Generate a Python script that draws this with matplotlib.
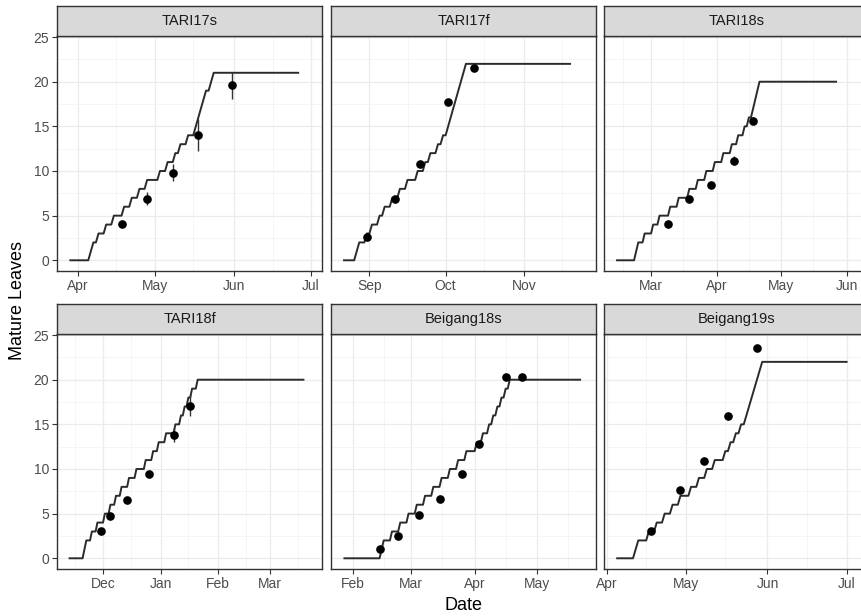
import numpy as np
import pandas as pd
import matplotlib
matplotlib.use("Agg")
import matplotlib.pyplot as plt
import matplotlib.dates as mdates

plt.rcParams['font.family'] = ['Liberation Sans', 'DejaVu Sans']

sites = ["TARI17s", "TARI17f", "TARI18s", "TARI18f", "Beigang18s", "Beigang19s"]

# simulated leaf appearance: first/last simulated day and the day (offset from
# the first day) on which each new mature leaf shows up
sim_start = ["2017-03-29", "2017-08-22", "2018-02-13", "2018-11-13", "2018-01-28", "2019-04-05"]
sim_end = ["2017-06-26", "2017-11-19", "2018-05-27", "2019-03-19", "2018-05-22", "2019-07-01"]

leaf_days_tari17s = [8, 9, 11, 14, 17, 21, 24, 27, 30, 35, 38, 41, 43, 46, 49, 50, 51, 52, 53, 55, 56]
leaf_days_tari17f = [5, 6, 9, 11, 14, 16, 19, 22, 25, 29, 32, 34, 37, 39, 41, 42, 43, 44, 45, 46, 47, 48]
leaf_days_tari18s = [9, 10, 13, 17, 20, 25, 29, 34, 38, 42, 46, 50, 54, 57, 60, 62, 64, 65, 66, 67]
leaf_days_tari18f = [8, 9, 12, 15, 19, 22, 25, 28, 32, 36, 41, 45, 48, 52, 57, 60, 62, 64, 66, 69]
leaf_days_beigang18s = [18, 19, 23, 27, 31, 35, 39, 43, 47, 51, 55, 59, 64, 67, 70, 72, 74, 76, 78, 80]
leaf_days_beigang19s = [7, 8, 12, 15, 18, 21, 24, 28, 31, 34, 37, 41, 43, 45, 47, 49, 50, 51, 52, 53, 54, 55]

# observed mature leaves (mean and sd)
obs_date_tari17s = ["2017-04-18", "2017-04-28", "2017-05-08", "2017-05-18", "2017-05-31"]
obs_mean_tari17s = [4.05, 6.9, 9.8, 14.0, 19.6]
obs_sd_tari17s = [0.2, 0.75, 0.95, 1.8, 1.5]

obs_date_tari17f = ["2017-08-31", "2017-09-11", "2017-09-21", "2017-10-02", "2017-10-12"]
obs_mean_tari17f = [2.6, 6.9, 10.8, 17.7, 21.5]
obs_sd_tari17f = [0.3, 0.3, 0.3, 0.3, 0.3]

obs_date_tari18s = ["2018-03-09", "2018-03-19", "2018-03-29", "2018-04-09", "2018-04-18"]
obs_mean_tari18s = [4.1, 6.85, 8.4, 11.15, 15.65]
obs_sd_tari18s = [0.2, 0.3, 0.3, 0.5, 0.4]

obs_date_tari18f = ["2018-11-30", "2018-12-05", "2018-12-14", "2018-12-26", "2019-01-08", "2019-01-17"]
obs_mean_tari18f = [3.0, 4.7, 6.55, 9.45, 13.8, 17.1]
obs_sd_tari18f = [0.2, 0.3, 0.3, 0.3, 0.8, 1.15]

obs_date_beigang18s = ["2018-02-14", "2018-02-23", "2018-03-05", "2018-03-15",
                       "2018-03-26", "2018-04-03", "2018-04-16", "2018-04-24"]
obs_mean_beigang18s = [1.05, 2.55, 4.9, 6.65, 9.45, 12.8, 20.35, 20.35]
obs_sd_beigang18s = [0.2, 0.2, 0.2, 0.2, 0.2, 0.2, 0.2, 0.2]

obs_date_beigang19s = ["2019-04-18", "2019-04-29", "2019-05-08", "2019-05-17", "2019-05-28"]
obs_mean_beigang19s = [3.0, 7.65, 10.85, 15.9, 23.5]
obs_sd_beigang19s = [0.2, 0.2, 0.3, 0.2, 0.3]

leaf_days = [leaf_days_tari17s, leaf_days_tari17f, leaf_days_tari18s,
             leaf_days_tari18f, leaf_days_beigang18s, leaf_days_beigang19s]
obs_date = [obs_date_tari17s, obs_date_tari17f, obs_date_tari18s,
            obs_date_tari18f, obs_date_beigang18s, obs_date_beigang19s]
obs_mean = [obs_mean_tari17s, obs_mean_tari17f, obs_mean_tari18s,
            obs_mean_tari18f, obs_mean_beigang18s, obs_mean_beigang19s]
obs_sd = [obs_sd_tari17s, obs_sd_tari17f, obs_sd_tari18s,
          obs_sd_tari18f, obs_sd_beigang18s, obs_sd_beigang19s]

# free x scales, one per facet
xlims = [("2017-03-23 19:00", "2017-07-05 07:00"),
         ("2017-08-16 21:00", "2017-11-29 05:00"),
         ("2018-02-06 21:00", "2018-06-11 12:00"),
         ("2018-11-06 05:00", "2019-03-29 00:00"),
         ("2018-01-21 12:00", "2018-05-29 17:00"),
         ("2019-03-31 00:00", "2019-07-09 12:00")]

W, H = 861, 616
fig = plt.figure(figsize=(W / 100, H / 100), dpi=100)

col_x = [57, 331, 604]
panel_w = 265
row_top = [36, 334]
panel_h = 235
strip_h = 30

for i, site in enumerate(sites):
    r, c = divmod(i, 3)
    x0 = col_x[c]
    y0 = row_top[r]
    ax = fig.add_axes([x0 / W, 1 - (y0 + panel_h) / H, panel_w / W, panel_h / H])
    sax = fig.add_axes([x0 / W, 1 - y0 / H, panel_w / W, strip_h / H])

    start = pd.Timestamp(sim_start[i])
    end = pd.Timestamp(sim_end[i])
    days = np.arange((end - start).days + 1)
    counts = np.searchsorted(np.sort(leaf_days[i]), days, side='right')
    dates = start + pd.to_timedelta(days, unit='D')
    ax.plot(dates, counts, color='#2b2b2b', lw=1.4, zorder=3)

    od = pd.to_datetime(obs_date[i])
    ax.errorbar(od, obs_mean[i], yerr=obs_sd[i], fmt='none', ecolor='#333333',
                elinewidth=1.0, capsize=0, zorder=4)
    ax.plot(od, obs_mean[i], 'o', color='black', ms=5.2, zorder=5)

    ax.set_xlim(pd.Timestamp(xlims[i][0]), pd.Timestamp(xlims[i][1]))
    ax.set_ylim(-1.2, 25.12)
    ax.xaxis.set_major_locator(mdates.MonthLocator())
    ax.xaxis.set_major_formatter(mdates.DateFormatter('%b'))
    ax.xaxis.set_minor_locator(mdates.MonthLocator(bymonthday=16))
    ax.set_yticks([0, 5, 10, 15, 20, 25])
    ax.set_yticks([2.5, 7.5, 12.5, 17.5, 22.5], minor=True)
    ax.grid(which='major', color='#EBEBEB', lw=0.9, zorder=0)
    ax.grid(which='minor', color='#F2F2F2', lw=0.5, zorder=0)
    ax.set_axisbelow(True)
    ax.tick_params(which='major', length=3.5, width=0.8, color='#333333',
                   labelcolor='#4D4D4D', labelsize=10, pad=2)
    ax.tick_params(which='minor', length=0)
    if c != 0:
        ax.tick_params(axis='y', which='both', left=False, labelleft=False)
    for s in ax.spines.values():
        s.set_color('#333333')
        s.set_linewidth(1.0)

    sax.set_facecolor('#D9D9D9')
    sax.set_xticks([])
    sax.set_yticks([])
    for s in sax.spines.values():
        s.set_color('#333333')
        s.set_linewidth(1.0)
    sax.text(0.5, 0.5, site, ha='center', va='center', fontsize=10.5,
             color='#1A1A1A', transform=sax.transAxes)

fig.text(18 / W, 1 - 301 / H, "Mature Leaves", rotation=90, ha='center',
         va='center', fontsize=13)
fig.text(463 / W, 1 - 605 / H, "Date", ha='center', va='center', fontsize=13)

fig.savefig("out.png", dpi=100)
